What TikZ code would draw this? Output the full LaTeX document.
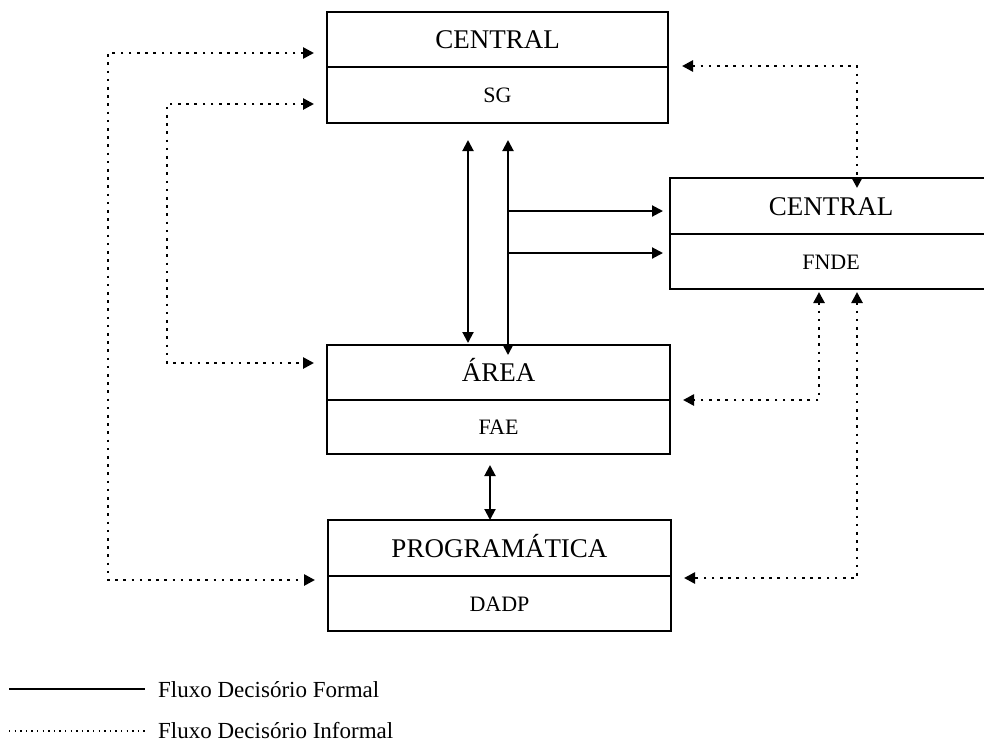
\documentclass[tikz,border=0pt]{standalone}
\usepackage{fontspec}
\setmainfont{Liberation Serif}
\usetikzlibrary{arrows.meta,calc}
\begin{document}
\begin{tikzpicture}[x=1pt,y=-1pt,
  cell/.style={draw,line width=2.8pt,inner sep=0pt,outer sep=0pt,anchor=center},
  big/.style={font=\fontsize{27}{30}\selectfont,text height=18pt,text depth=0pt},
  small/.style={font=\fontsize{22}{24}\selectfont,text height=15pt,text depth=0pt},
  legtext/.style={font=\fontsize{23}{26}\selectfont,anchor=base west,inner sep=0pt},
  fml/.style={line width=2pt},
  inf/.style={line width=2.6pt,dash pattern=on 2.6pt off 5.6pt},
  one/.style={arrows={-Triangle[length=11pt,width=11pt]}},
  both/.style={arrows={Triangle[length=11pt,width=11pt]-Triangle[length=11pt,width=11pt]}}
]
\useasboundingbox (0,0) rectangle (984,753);
\clip (0,0) rectangle (984,753);

% SG box
\node[cell,big,minimum width=341pt,minimum height=55pt] (sg1) at (497.5,39.5) {CENTRAL};
\node[cell,small,minimum width=341pt,minimum height=56pt,anchor=north] (sg2) at (sg1.south) {SG};
% FNDE box (runs past the right edge)
\node[cell,big,minimum width=322pt,minimum height=56pt] (fn1) at (831,206) {CENTRAL};
\node[cell,small,minimum width=322pt,minimum height=55pt,anchor=north] (fn2) at (fn1.south) {FNDE};
% AREA box
\node[cell,big,minimum width=343pt,minimum height=55pt] (ar1) at (498.5,372.5) {ÁREA};
\node[cell,small,minimum width=343pt,minimum height=54pt,anchor=north] (ar2) at (ar1.south) {FAE};
% PROGRAMATICA box
\node[cell,big,minimum width=343pt,minimum height=56pt] (pr1) at (499.5,548) {PROGRAMÁTICA};
\node[cell,small,minimum width=343pt,minimum height=55pt,anchor=north] (pr2) at (pr1.south) {DADP};

% formal flows
\draw[fml,both] ([yshift=-17pt]sg2.south -| 468,0) -- ([yshift=2pt]ar1.north -| 468,0);
\draw[fml,both] ([yshift=-17pt]sg2.south -| 508,0) -- ([yshift=-10pt]ar1.north -| 508,0);
\coordinate (b1) at (508,211);
\coordinate (b2) at (508,253);
\draw[fml,one] (b1) -- ([xshift=-7pt]fn1.west |- b1);
\draw[fml,one] (b2) -- ([xshift=-7pt]fn1.west |- b2);
\draw[fml,both] ([yshift=-11pt]ar2.south -| 490,0) -- (pr1.north -| 490,0);

% informal flows
\draw[inf,both] ([xshift=-13pt]sg1.west |- 0,53) -- (108,53) -- (108,580) -- ([xshift=-13pt]pr2.west |- 0,580);
\draw[inf,both] ([xshift=-13pt]sg1.west |- 0,104) -- (167,104) -- (167,363) -- ([xshift=-13pt]ar1.west |- 0,363);
\draw[inf,both] ([xshift=14pt]sg1.east |- 0,66) -- (857,66) -- ([yshift=-10pt]fn1.north -| 857,0);
\draw[inf,both] ([yshift=-3pt]fn2.south -| 819,0) -- (819,400) -- ([xshift=13pt]ar1.east |- 0,400);
\draw[inf,both] ([yshift=-3pt]fn2.south -| 857,0) -- (857,578) -- ([xshift=13pt]pr2.east |- 0,578);

% legend
\coordinate (l1a) at (9,689);
\coordinate (l1b) at (145,689);
\coordinate (l2a) at (9,731);
\coordinate (l2b) at (145,731);
\draw[fml] (l1a) -- (l1b);
\draw[line width=1.4pt,dash pattern=on 1.4pt off 4.2pt] (l2a) -- (l2b);
\node[legtext] (lg1) at (158,697) {Fluxo Decisório Formal};
\node[legtext] (lg2) at (158,738) {Fluxo Decisório Informal};
\end{tikzpicture}
\end{document}
